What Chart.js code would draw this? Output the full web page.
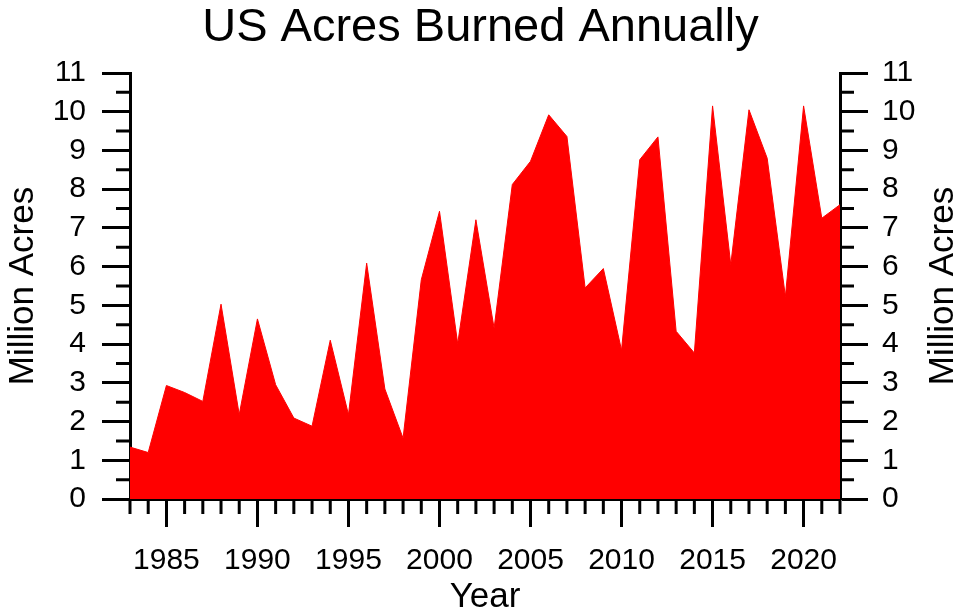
<!DOCTYPE html>
<html>
<head>
<meta charset="utf-8">
<title>US Acres Burned Annually</title>
<script src="https://cdn.jsdelivr.net/npm/chart.js@4.4.1/dist/chart.umd.min.js"></script>
<style>
  html, body { margin: 0; padding: 0; background: #fff; }
  canvas { display: block; }
</style>
</head>
<body>
<canvas id="myChart" width="961" height="615"></canvas>
<script>
// data (million acres per year)
const years = [1983, 1984, 1985, 1986, 1987, 1988, 1989, 1990, 1991, 1992,
  1993, 1994, 1995, 1996, 1997, 1998, 1999, 2000, 2001, 2002,
  2003, 2004, 2005, 2006, 2007, 2008, 2009, 2010, 2011, 2012,
  2013, 2014, 2015, 2016, 2017, 2018, 2019, 2020, 2021, 2022];
const acres = [1.34, 1.20, 2.93, 2.75, 2.52, 5.03, 2.18, 4.65, 2.95, 2.09,
  1.88, 4.10, 2.18, 6.09, 2.84, 1.57, 5.66, 7.43, 4.01, 7.21,
  4.41, 8.12, 8.72, 9.92, 9.36, 5.45, 5.95, 3.84, 8.76, 9.35,
  4.33, 3.77, 10.15, 6.05, 10.05, 8.80, 5.23, 10.15, 7.25, 7.60];
const xTickYears = [1985, 1990, 1995, 2000, 2005, 2010, 2015, 2020];
const yTickValues = [0, 1, 2, 3, 4, 5, 6, 7, 8, 9, 10, 11];

const FONT = "'Liberation Sans', Arial, sans-serif";

// small ticks: every year on x, every half unit on both y axes
// also the right axis title, which reads bottom-to-top like the left one
const extras = {
  id: 'extras',
  afterDraw(chart) {
    const { ctx, chartArea, scales } = chart;
    ctx.save();
    ctx.strokeStyle = '#000';
    ctx.lineWidth = 3;
    ctx.beginPath();
    years.forEach(yr => {
      if (xTickYears.includes(yr)) return;
      const px = scales.x.getPixelForValue(yr);
      ctx.moveTo(px, chartArea.bottom);
      ctx.lineTo(px, chartArea.bottom + 15);
    });
    yTickValues.slice(0, -1).forEach(v => {
      const py = scales.y.getPixelForValue(v + 0.5);
      ctx.moveTo(chartArea.left, py);
      ctx.lineTo(chartArea.left - 14, py);
      ctx.moveTo(chartArea.right, py);
      ctx.lineTo(chartArea.right + 14, py);
    });
    ctx.stroke();

    ctx.fillStyle = '#000';
    ctx.font = '35px ' + FONT;
    ctx.textAlign = 'center';
    ctx.textBaseline = 'middle';
    ctx.translate(943, (chartArea.top + chartArea.bottom) / 2);
    ctx.rotate(-Math.PI / 2);
    ctx.fillText('Million Acres', 0, 0);
    ctx.restore();
  }
};

const tickGrid = {
  display: true,
  drawOnChartArea: false,
  drawTicks: true,
  tickLength: 28,
  tickWidth: 3,
  tickColor: '#000'
};
const axisBorder = { display: true, color: '#000', width: 3 };

new Chart(document.getElementById('myChart'), {
  type: 'line',
  data: {
    datasets: [{
      data: years.map((yr, i) => ({ x: yr, y: acres[i] })),
      backgroundColor: '#ff0000',
      borderColor: '#ff0000',
      borderWidth: 1,
      fill: 'origin',
      pointRadius: 0,
      tension: 0
    }]
  },
  options: {
    responsive: false,
    devicePixelRatio: 1,
    animation: false,
    layout: { padding: 0 },
    plugins: {
      legend: { display: false },
      tooltip: { enabled: false },
      title: {
        display: true,
        text: 'US Acres Burned Annually',
        color: '#000',
        font: { family: FONT, size: 47, weight: 'normal' },
        padding: { top: 0, bottom: 16.6 }
      }
    },
    scales: {
      x: {
        type: 'linear',
        min: 1983,
        max: 2022,
        z: 1,
        grid: tickGrid,
        border: axisBorder,
        afterBuildTicks: s => { s.ticks = xTickYears.map(v => ({ value: v })); },
        afterFit: s => { s.height = 116; },
        ticks: {
          color: '#000',
          padding: 16,
          maxRotation: 0,
          autoSkip: false,
          font: { family: FONT, size: 30 },
          callback: v => String(v)
        },
        title: {
          display: true,
          text: 'Year',
          color: '#000',
          font: { family: FONT, size: 35, lineHeight: 1 },
          padding: { top: 0, bottom: 0 }
        }
      },
      y: {
        position: 'left',
        min: 0,
        max: 11,
        z: 1,
        grid: tickGrid,
        border: axisBorder,
        afterBuildTicks: s => { s.ticks = yTickValues.map(v => ({ value: v })); },
        afterFit: s => { s.width = 130; },
        ticks: {
          color: '#000',
          padding: 16,
          autoSkip: false,
          font: { family: FONT, size: 30 }
        },
        title: {
          display: true,
          text: 'Million Acres',
          color: '#000',
          font: { family: FONT, size: 35, lineHeight: 1 },
          padding: { top: 6, bottom: 0 }
        }
      },
      y2: {
        position: 'right',
        min: 0,
        max: 11,
        z: 1,
        grid: tickGrid,
        border: axisBorder,
        afterBuildTicks: s => { s.ticks = yTickValues.map(v => ({ value: v })); },
        afterFit: s => { s.width = 121; },
        ticks: {
          color: '#000',
          padding: 14,
          autoSkip: false,
          font: { family: FONT, size: 30 }
        }
      }
    }
  },
  plugins: [extras]
});
</script>
</body>
</html>
